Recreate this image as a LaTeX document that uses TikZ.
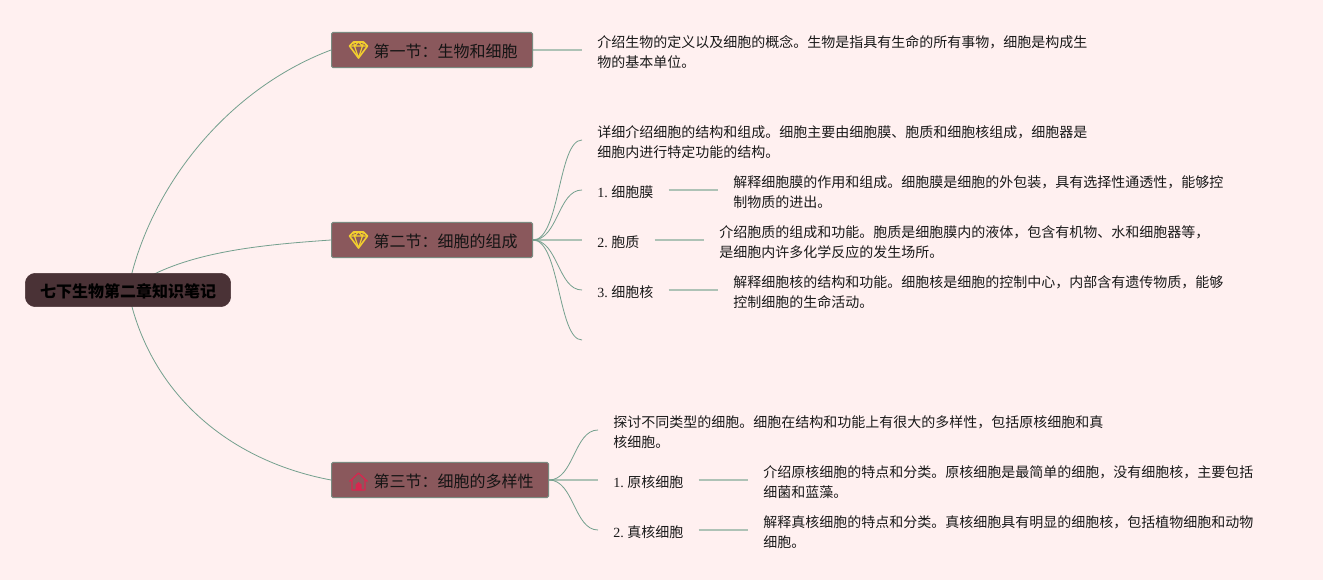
\documentclass[tikz,border=0pt]{standalone}
\usepackage{fontspec}
\setmainfont{Liberation Serif}
\newfontfamily\cjk{Noto Sans CJK SC}
\usepackage{xcolor}
\usetikzlibrary{backgrounds}
\definecolor{pagebg}{HTML}{FFF0F0}
\definecolor{rootfill}{HTML}{4A3236}
\definecolor{secfill}{HTML}{8A585C}
\definecolor{secedge}{HTML}{7A8A80}
\definecolor{curveline}{HTML}{74A08E}
\definecolor{stemline}{HTML}{AEC2B6}
\definecolor{gemgold}{HTML}{F2CF2E}
\definecolor{homered}{HTML}{D8264F}
\newcommand{\lineup}{\rule{0pt}{12pt}}
\newcommand{\dou}{\char"FF0C\relax}
\newcommand{\mao}{\char"FF1A\relax}
\tikzset{
  rootnode/.style={draw=rootfill, fill=rootfill, rounded corners=7.5pt, minimum width=154pt, minimum height=25pt, inner sep=0pt, font=\cjk\bfseries\fontsize{12}{15}\selectfont, text=black},
  secnode/.style={draw=secedge, fill=secfill, line width=0.75pt, rounded corners=1.2pt, anchor=west, minimum height=26.5pt, inner ysep=0pt, inner xsep=11.25pt, font=\cjk\fontsize{12}{15}\selectfont, text=black!92},
  textnode/.style={anchor=west, inner ysep=0pt, inner xsep=11.25pt, align=left, font=\cjk\fontsize{10.5}{15}\selectfont, text=black!90},
  curve/.style={draw=curveline, line width=0.6pt},
  stem/.style={draw=stemline, line width=1.1pt},
  gem/.pic={
    \draw[gemgold, line width=1.2pt, line join=round] (-9,-4) -- (-5,-8) -- (5,-8) -- (9,-4) -- (0,8) -- cycle;
    \draw[gemgold, line width=0.9pt, line join=round] (-9,-4) -- (9,-4) (-4,-4) -- (0,8) -- (4,-4) (-5,-8) -- (-4,-4) -- (0,-8) -- (4,-4) -- (5,-8);
  },
  home/.pic={
    \draw[homered, line width=0.9pt, line join=round] (-9,0) -- (0,-8.5) -- (9,0) (-6.5,-2) -- (-6.5,8.5) -- (6.5,8.5) -- (6.5,-2);
    \fill[homered] (-3,8.5) -- (-3,3) -- (0,0.5) -- (3,3) -- (3,8.5) -- cycle;
  }
}
\begin{document}
\begin{tikzpicture}[x=0.75pt, y=-0.75pt]
  \useasboundingbox (0,0) rectangle (1323,580);
  \node[rootnode] (root) at (128,290) {\lineup 七下生物第二章知识笔记};

  % First section
  \node[secnode] (sec1) at (331,50) {\lineup\hspace*{20.25pt}第一节\mao 生物和细胞};
  \pic at (358.5,50) {gem};
  \node[textnode] (sec1text) at (582,50) {\lineup 介绍生物的定义以及细胞的概念。生物是指具有生命的所有事物\dou 细胞是构成生\\物的基本单位。};

  % Second section
  \node[secnode] (sec2) at (331,240) {\lineup\hspace*{20.25pt}第二节\mao 细胞的组成};
  \pic at (358.5,240) {gem};
  \node[textnode] (sec2text) at (582,140) {\lineup 详细介绍细胞的结构和组成。细胞主要由细胞膜、胞质和细胞核组成\dou 细胞器是\\细胞内进行特定功能的结构。};
  \node[textnode] (membrane) at (582,190) {\lineup{\rmfamily 1.\ }细胞膜};
  \node[textnode] (membranetext) at (718,190) {\lineup 解释细胞膜的作用和组成。细胞膜是细胞的外包装\dou 具有选择性通透性\dou 能够控\\制物质的进出。};
  \node[textnode] (plasm) at (582,240) {\lineup{\rmfamily 2.\ }胞质};
  \node[textnode] (plasmtext) at (704,240) {\lineup 介绍胞质的组成和功能。胞质是细胞膜内的液体\dou 包含有机物、水和细胞器等\dou\\是细胞内许多化学反应的发生场所。};
  \node[textnode] (nucleus) at (582,290) {\lineup{\rmfamily 3.\ }细胞核};
  \node[textnode] (nucleustext) at (718,290) {\lineup 解释细胞核的结构和功能。细胞核是细胞的控制中心\dou 内部含有遗传物质\dou 能够\\控制细胞的生命活动。};
  \coordinate (sec2end) at (582,340);

  % Third section
  \node[secnode] (sec3) at (331,480) {\lineup\hspace*{20.25pt}第三节\mao 细胞的多样性};
  \pic at (358.5,481.5) {home};
  \node[textnode] (sec3text) at (598,430) {\lineup 探讨不同类型的细胞。细胞在结构和功能上有很大的多样性\dou 包括原核细胞和真\\核细胞。};
  \node[textnode] (prokaryote) at (598,480) {\lineup{\rmfamily 1.\ }原核细胞};
  \node[textnode] (prokaryotetext) at (748,480) {\lineup 介绍原核细胞的特点和分类。原核细胞是最简单的细胞\dou 没有细胞核\dou 主要包括\\细菌和蓝藻。};
  \node[textnode] (eukaryote) at (598,530) {\lineup{\rmfamily 2.\ }真核细胞};
  \node[textnode] (eukaryotetext) at (748,530) {\lineup 解释真核细胞的特点和分类。真核细胞具有明显的细胞核\dou 包括植物细胞和动物\\细胞。};

  \begin{scope}[on background layer]
    \fill[pagebg] (0,0) rectangle (1323,580);
    % Root to sections
    \draw[curve] (root.center) .. controls (148,190) and (225,90) .. (sec1.west);
    \draw[curve] (root.center) .. controls (178,252) and (260,245) .. (sec2.west);
    \draw[curve] (root.center) .. controls (148,390) and (225,460) .. (sec3.west);
    % Section to text
    \draw[stem] (sec1.east) -- (sec1text.west);
    \draw[stem] (sec2.east) -- (plasm.west);
    \draw[stem] (membrane.east) -- (membranetext.west);
    \draw[stem] (plasm.east) -- (plasmtext.west);
    \draw[stem] (nucleus.east) -- (nucleustext.west);
    \draw[stem] (sec3.east) -- (prokaryote.west);
    \draw[stem] (prokaryote.east) -- (prokaryotetext.west);
    \draw[stem] (eukaryote.east) -- (eukaryotetext.west);
    \draw[curve] (sec2.east) .. controls (560,240) and (558,140) .. (sec2text.west);
    \draw[curve] (sec2.east) .. controls (558,240) and (558,190) .. (membrane.west);
    \draw[curve] (sec2.east) .. controls (558,240) and (558,290) .. (nucleus.west);
    \draw[curve] (sec2.east) .. controls (560,240) and (558,340) .. (sec2end);
    \draw[curve] (sec3.east) .. controls (574,480) and (574,430) .. (sec3text.west);
    \draw[curve] (sec3.east) .. controls (574,480) and (574,530) .. (eukaryote.west);
  \end{scope}
\end{tikzpicture}
\end{document}
